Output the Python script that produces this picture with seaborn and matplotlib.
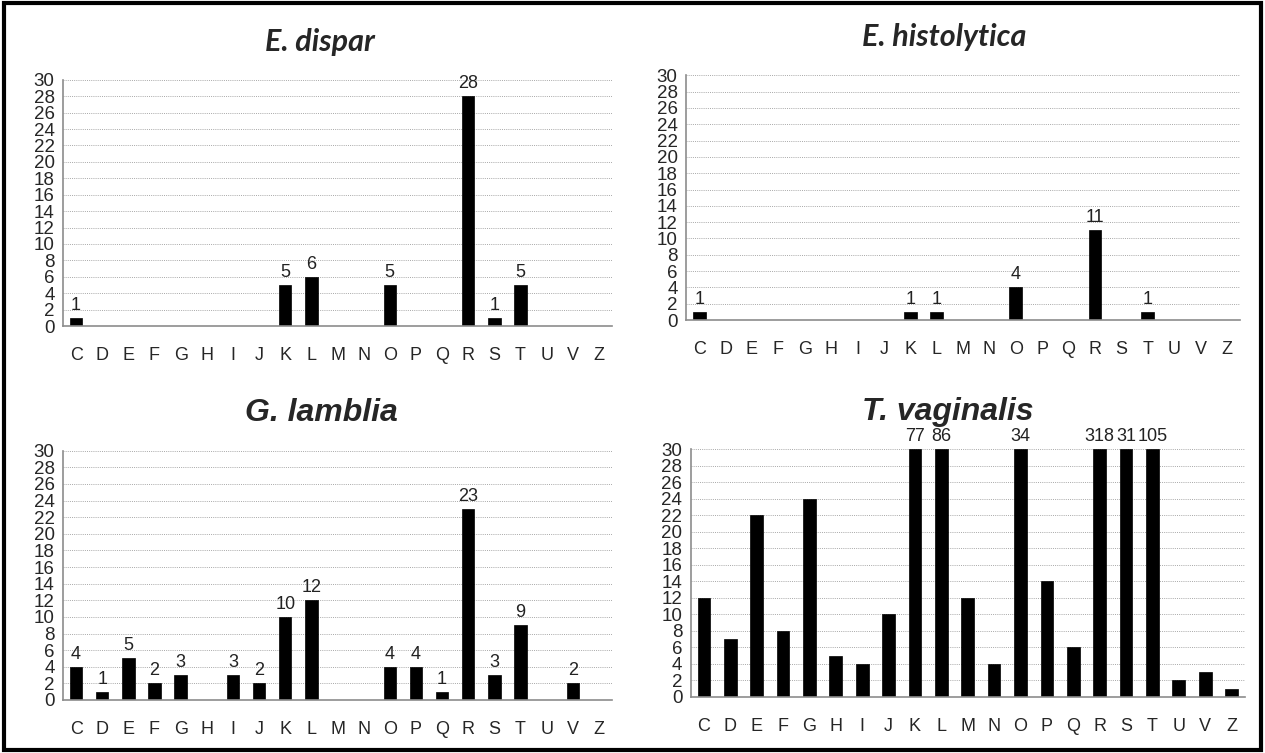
import numpy as np
import matplotlib
matplotlib.use("Agg")
import matplotlib.pyplot as plt
import seaborn as sns
from matplotlib.patches import Rectangle
from matplotlib.ticker import FixedLocator

sns.set_style("white")
plt.rcParams['font.family'] = ['Liberation Sans', 'DejaVu Sans']

categories = ["C", "D", "E", "F", "G", "H", "I", "J", "K", "L", "M",
              "N", "O", "P", "Q", "R", "S", "T", "U", "V", "Z"]

e_dispar = [1, 0, 0, 0, 0, 0, 0, 0, 5, 6, 0, 0, 5, 0, 0, 28, 1, 5, 0, 0, 0]
e_histolytica = [1, 0, 0, 0, 0, 0, 0, 0, 1, 1, 0, 0, 4, 0, 0, 11, 0, 1, 0, 0, 0]
g_lamblia = [4, 1, 5, 2, 3, 0, 3, 2, 10, 12, 0, 0, 4, 4, 1, 23, 3, 9, 0, 2, 0]
t_vaginalis = [12, 7, 22, 8, 24, 5, 4, 10, 77, 86, 12, 4, 34, 14, 6, 318, 31, 105, 2, 3, 1]

yticks = list(range(0, 31, 2))
ymax = 30

panels = [
    # name, values, axes rect, title x/y (px), title font, title size, label mode
    ("E. dispar", e_dispar, [0.0498, 0.567, 0.434, 0.327], (320, 42), "Lato", 22, "all"),
    ("E. histolytica", e_histolytica, [0.5423, 0.575, 0.438, 0.325], (944, 37), "Lato", 22, "all"),
    ("G. lamblia", g_lamblia, [0.0498, 0.0704, 0.434, 0.331], (321, 413), "Liberation Sans", 23, "all"),
    ("T. vaginalis", t_vaginalis, [0.546, 0.0744, 0.438, 0.329], (948, 412), "Liberation Sans", 23, "over"),
]

W, H = 1265, 753
fig = plt.figure(figsize=(W / 100, H / 100), dpi=100)

for name, vals, rect, (tx, ty), tfont, tsize, mode in panels:
    ax = fig.add_axes(rect)
    shown = np.minimum(vals, ymax)
    sns.barplot(x=categories, y=shown, color="black", width=0.48,
                saturation=1, ax=ax, edgecolor="black", linewidth=0.5)
    ax.set_ylim(0, ymax)
    ax.set_xlim(-0.5, len(categories) - 0.5)
    ax.set_yticks(yticks)
    ax.set_yticklabels([str(t) for t in yticks], fontsize=13.5,
                       family=['Liberation Sans Narrow', 'Liberation Sans'])
    ax.grid(axis="y", linestyle=(0, (1, 1.2)), color="#a8a8a8", linewidth=0.7)
    ax.grid(axis="x", visible=False)
    ax.set_axisbelow(True)
    for s in ["top", "right"]:
        ax.spines[s].set_visible(False)
    for s in ["left", "bottom"]:
        ax.spines[s].set_color("#8c8c8c")
        ax.spines[s].set_linewidth(1.2)
    ax.tick_params(axis="x", which="major", length=0, pad=15, labelsize=13)
    ax.xaxis.set_minor_locator(FixedLocator(np.arange(-0.5, len(categories), 1)))
    ax.tick_params(axis="x", which="minor", length=6, color="#8c8c8c", width=1.2)
    ax.tick_params(axis="y", length=5, color="#8c8c8c", width=1.2, pad=1)
    ax.set_xlabel("")
    ax.set_ylabel("")

    if mode == "all":
        labels = [str(v) if v > 0 else "" for v in vals]
    else:
        labels = [str(v) if v > ymax else "" for v in vals]
    ax.bar_label(ax.containers[0], labels=labels, padding=3, fontsize=13,
                 color="#222222", family=['Liberation Sans Narrow', 'Liberation Sans'])

    fig.text(tx / W, 1 - ty / H, name, ha="center", va="center",
             fontsize=tsize, fontweight="bold", fontstyle="italic", family=tfont)

fig.patches.append(Rectangle((0.003, 0.004), 0.994, 0.992, transform=fig.transFigure,
                             fill=False, edgecolor="black", linewidth=3))

fig.savefig("out.png", dpi=100)
